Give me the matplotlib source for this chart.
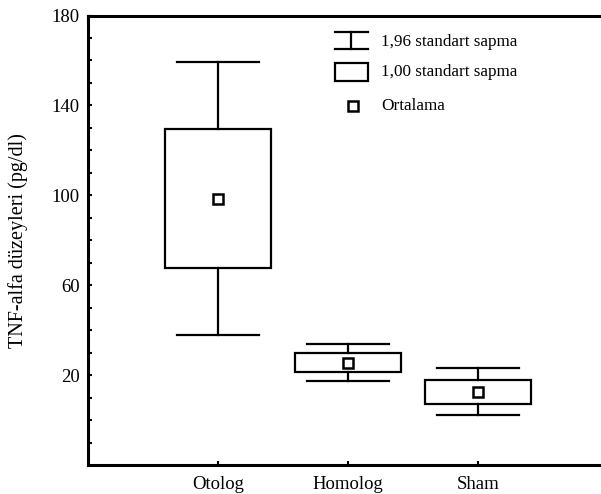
import numpy as np
import matplotlib.pyplot as plt
from matplotlib.patches import Rectangle
from matplotlib.lines import Line2D

# group means and standard deviations
groups = ["Otolog", "Homolog", "Sham"]
means = [98.5, 25.6, 12.6]
sds = [31.0, 4.2, 5.3]
yticks = [20, 60, 100, 140, 180]

plt.rcParams["font.family"] = ["Liberation Serif", "DejaVu Serif"]

fig = plt.figure(figsize=(6.01, 4.94), dpi=100)
ax = fig.add_axes([0.1464, 0.0587, 0.865, 0.9099])

box_w = 0.82
cap_w = 0.63
lw = 1.6
for i, (m, s) in enumerate(zip(means, sds)):
    x = i + 1
    lo, hi = m - s, m + s
    wlo, whi = m - 1.96 * s, m + 1.96 * s
    ax.add_patch(Rectangle((x - box_w / 2, lo), box_w, hi - lo,
                           fill=False, edgecolor="black", lw=lw))
    ax.plot([x, x], [hi, whi], color="black", lw=lw)
    ax.plot([x, x], [wlo, lo], color="black", lw=lw)
    ax.plot([x - cap_w / 2, x + cap_w / 2], [whi, whi], color="black", lw=lw)
    ax.plot([x - cap_w / 2, x + cap_w / 2], [wlo, wlo], color="black", lw=lw)
    ax.plot(x, m, marker="s", ms=6.5, mfc="white", mec="black", mew=1.8)

ax.set_xlim(0, 4)
ax.set_ylim(-20, 180)
ax.set_xticks([1, 2, 3])
ax.set_xticklabels(groups, fontsize=14)
ax.set_yticks(yticks)
ax.set_yticks(np.arange(-10, 180, 10), minor=True)
ax.tick_params(axis="both", direction="in", length=3, width=1.5, labelsize=13.5)
ax.tick_params(axis="y", which="minor", direction="in", length=3, width=1.5)
ax.tick_params(axis="x", pad=8)
ax.tick_params(axis="y", pad=6)
ax.spines["right"].set_visible(False)
for sp in ["left", "top", "bottom"]:
    ax.spines[sp].set_linewidth(2.2)
ax.set_ylabel("TNF-alfa düzeyleri (pg/dl)", fontsize=14.5, labelpad=17)

# legend drawn by hand, in axes fraction
tr = ax.transAxes
def fx(px):
    return (px - 88) / 520.0
def fy(py):
    return (465 - py) / 449.5

x0, x1 = fx(335), fx(368)
xm = (x0 + x1) / 2
ax.add_line(Line2D([x0, x1], [fy(32), fy(32)], transform=tr, color="black", lw=lw))
ax.add_line(Line2D([x0, x1], [fy(49), fy(49)], transform=tr, color="black", lw=lw))
ax.add_line(Line2D([xm, xm], [fy(32), fy(49)], transform=tr, color="black", lw=lw))
ax.add_patch(Rectangle((x0, fy(81)), x1 - x0, fy(63) - fy(81), transform=tr,
                       fill=False, edgecolor="black", lw=lw))
ax.add_line(Line2D([fx(353)], [fy(106)], transform=tr, marker="s", ms=6.5,
                   mfc="white", mec="black", mew=1.8))
tx = fx(381)
ax.text(tx, fy(42), "1,96 standart sapma", transform=tr, fontsize=12.3, va="center")
ax.text(tx, fy(72), "1,00 standart sapma", transform=tr, fontsize=12.3, va="center")
ax.text(tx, fy(106), "Ortalama", transform=tr, fontsize=12.3, va="center")

fig.savefig("out.png", dpi=100)
